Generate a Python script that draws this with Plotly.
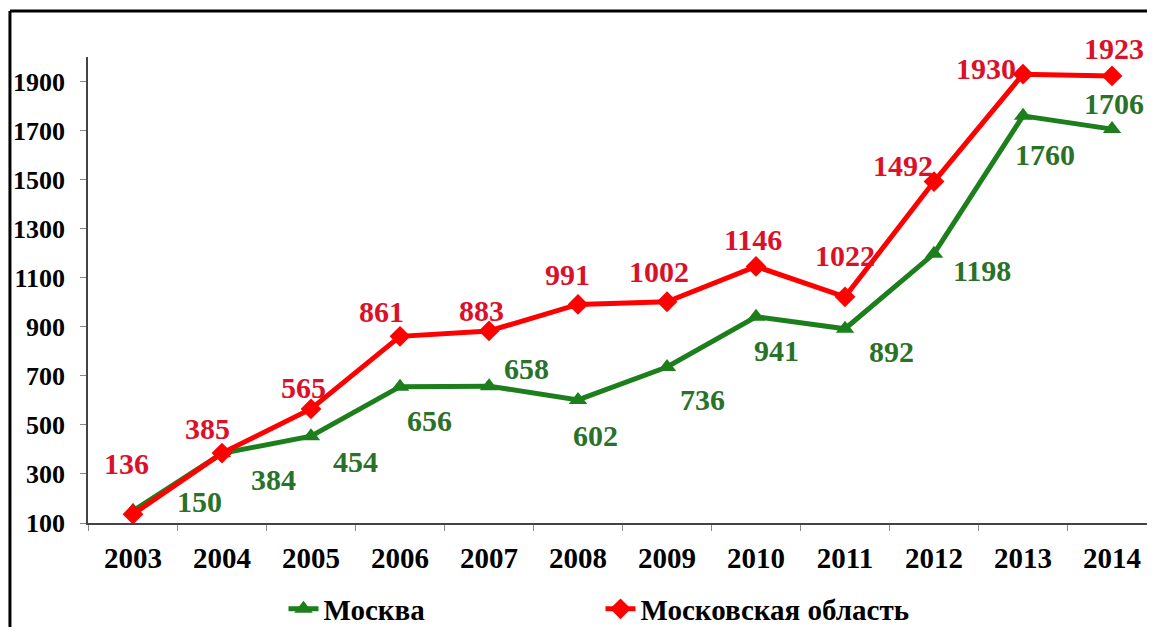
import plotly.graph_objects as go

years = ["2003", "2004", "2005", "2006", "2007", "2008", "2009", "2010", "2011", "2012", "2013", "2014"]
moscow = [150, 384, 454, 656, 658, 602, 736, 941, 892, 1198, 1760, 1706]
oblast = [136, 385, 565, 861, 883, 991, 1002, 1146, 1022, 1492, 1930, 1923]
y_ticks = [100, 300, 500, 700, 900, 1100, 1300, 1500, 1700, 1900]

# label offsets (pixels, right / down) relative to each point
moscow_off = [(66, -9), (51, 26), (44, 25), (29, 34), (37, -18), (17, 36), (35, 32),
              (20, 34), (46, 23), (48, 17), (22, 39), (2, -26)]
oblast_off = [(-7, -51), (-15, -25), (-8, -21), (-19, -25), (-8, -20), (-11, -30), (-8, -30),
              (-3, -27), (0, -41), (-31, -16), (-37, -6), (2, -27)]

GREEN = "#1c7f1c"
GREEN_TXT = "#2a722a"
RED = "#ff0000"
RED_TXT = "#dc1029"
FONT = "Liberation Serif"

fig = go.Figure()
fig.add_trace(go.Scatter(
    x=years, y=moscow, name="Москва", mode="lines+markers",
    line=dict(color=GREEN, width=5),
    marker=dict(symbol="triangle-up", size=16, color=GREEN),
))
fig.add_trace(go.Scatter(
    x=years, y=oblast, name="Московская область", mode="lines+markers",
    line=dict(color=RED, width=5),
    marker=dict(symbol="diamond", size=16, color=RED),
))

for i, (v, (dx, dy)) in enumerate(zip(moscow, moscow_off)):
    fig.add_annotation(x=i, y=v, xref="x", yref="y", text="<b>%d</b>" % v,
                       showarrow=False, xshift=dx, yshift=-dy,
                       font=dict(family=FONT, size=30, color=GREEN_TXT))
for i, (v, (dx, dy)) in enumerate(zip(oblast, oblast_off)):
    fig.add_annotation(x=i, y=v, xref="x", yref="y", text="<b>%d</b>" % v,
                       showarrow=False, xshift=dx, yshift=-dy,
                       font=dict(family=FONT, size=30, color=RED_TXT))

# frame (top and left edges visible in the reference)
fig.add_shape(type="line", xref="paper", yref="paper", x0=-0.0737, x1=1.1, y0=1.0987, y1=1.0987,
              line=dict(color="black", width=3))
fig.add_shape(type="line", xref="paper", yref="paper", x0=-0.0737, x1=-0.0737, y0=-0.4, y1=1.0987,
              line=dict(color="black", width=3))

fig.update_layout(
    width=1139, height=619,
    margin=dict(l=80, r=0, t=49, b=104, autoexpand=False),
    paper_bgcolor="white", plot_bgcolor="white",
    font=dict(family=FONT, size=22, color="black"),
    showlegend=True,
    legend=dict(orientation="h", x=0.1846, xanchor="left", y=-0.1845, yanchor="middle",
                font=dict(family=FONT, size=29, color="black", weight="bold"),
                entrywidth=272, entrywidthmode="pixels", bgcolor="rgba(0,0,0,0)"),
)
fig.update_xaxes(
    type="category", range=[-0.5056, 11.393], showgrid=False,
    showline=True, linecolor="#444444", linewidth=1.5,
    ticks="outside", ticklen=6, tickcolor="#888888", tickson="boundaries",
    ticklabelstandoff=8,
    tickfont=dict(family=FONT, size=29, color="black", weight="bold"),
)
fig.update_yaxes(
    range=[100, 2000], tickvals=y_ticks, showgrid=False,
    showline=True, linecolor="#444444", linewidth=1.5,
    ticks="outside", ticklen=6, tickcolor="#888888",
    ticklabelstandoff=10,
    tickfont=dict(family=FONT, size=26, color="black", weight="bold"),
    zeroline=False,
)

fig.write_html("out.html")
